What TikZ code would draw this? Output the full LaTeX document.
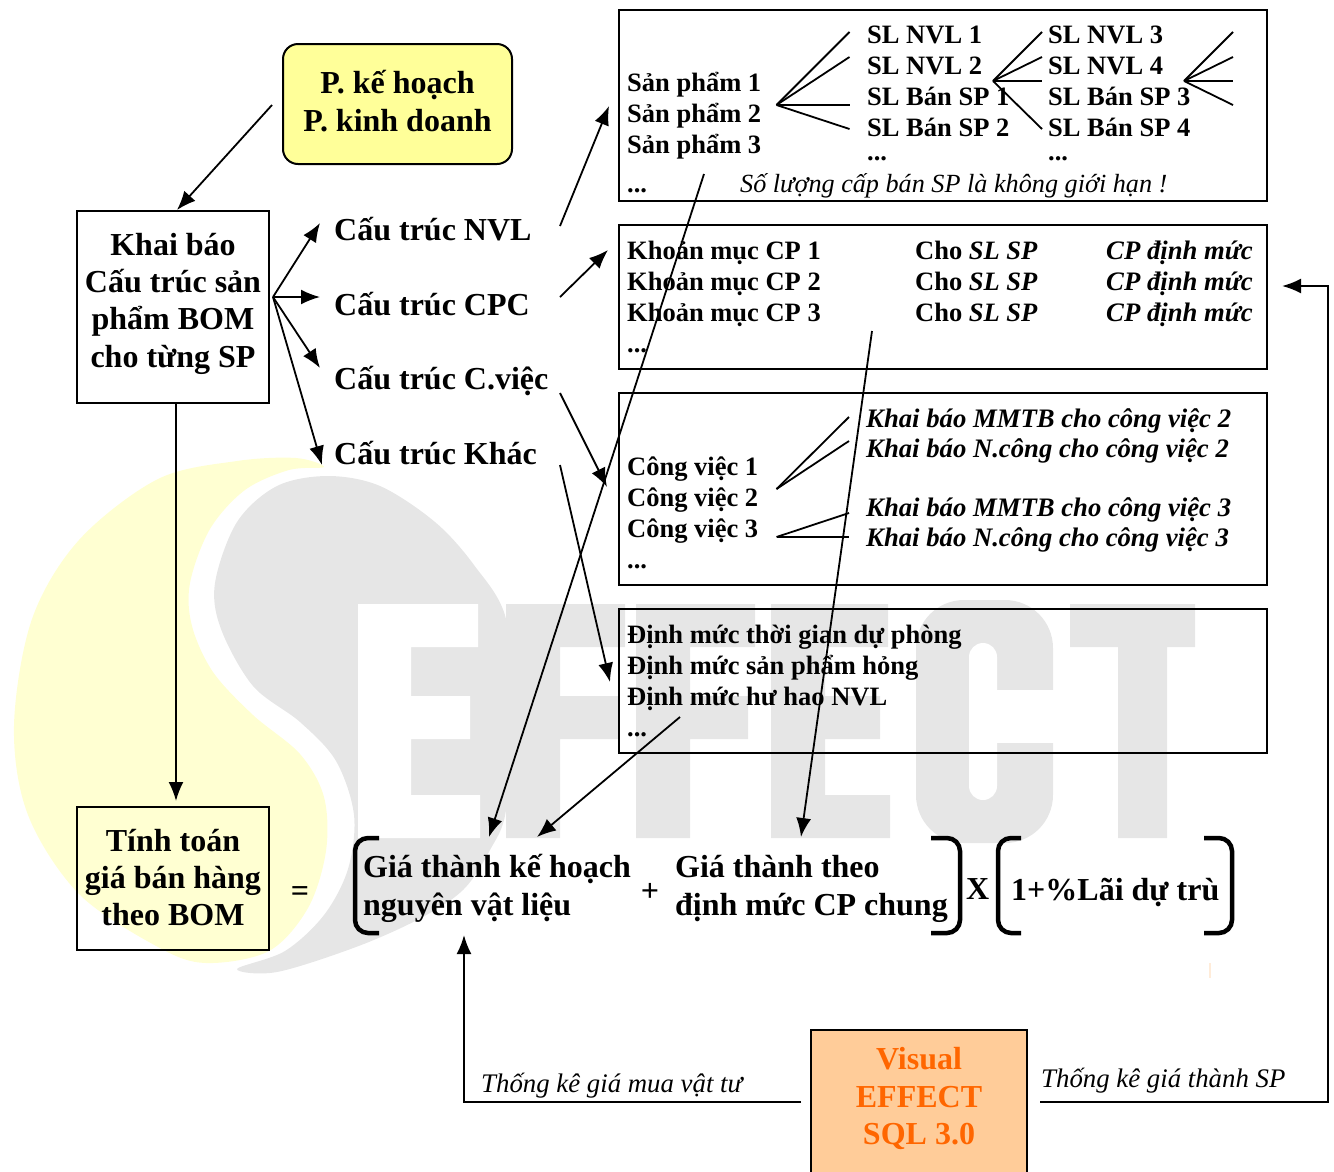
\documentclass[tikz,border=0pt]{standalone}
\usepackage{fontspec}
\setmainfont{Liberation Serif}
\usetikzlibrary{arrows.meta}
\definecolor{wmyellow}{HTML}{FFFFD2}
\definecolor{wmgray}{HTML}{E6E6E6}
\definecolor{planfill}{HTML}{FFFF99}
\definecolor{visfill}{HTML}{FFCC99}
\definecolor{vistext}{HTML}{FF6600}
\newcommand{\bigf}{\fontsize{32}{37.3}\selectfont\bfseries}
\newcommand{\smallf}{\fontsize{26.5}{31}\selectfont\bfseries}
\newcommand{\bif}{\fontsize{26.7}{31}\selectfont\bfseries\itshape}
\newcommand{\notef}{\fontsize{26.2}{31}\selectfont\itshape}
\newcommand{\notelf}{\fontsize{26.8}{31}\selectfont\itshape}
\tikzset{
  x=1pt,y=-1pt,
  boxshape/.style={draw=black,line width=2pt,rectangle,inner sep=0pt,align=center,font=\bigf},
  panel/.style={draw=black,line width=2pt,rectangle,inner sep=0pt,minimum width=648pt},
  biglabel/.style={anchor=base west,inner sep=0pt,align=left,font=\bigf},
  listlabel/.style={anchor=base west,inner sep=0pt,align=left,font=\smallf},
  bilabel/.style={anchor=base west,inner sep=0pt,align=left,font=\bif},
  notelabel/.style={anchor=base west,inner sep=0pt,font=\notef},
  arrowline/.style={line width=1.8pt,-{Latex[length=19pt,width=15pt]}},
  fanline/.style={line width=1.8pt},
  bracket/.style={line width=4.5pt,rounded corners=13pt},
  feedline/.style={line width=2pt,-{Latex[length=19pt,width=15pt]}},
}
\begin{document}
\begin{tikzpicture}
\useasboundingbox (0,0) rectangle (1334,1171);
% ---------- watermark ----------
\fill[wmyellow] plot[smooth cycle,tension=0.55] coordinates {
 (324,467) (296,458) (237,461) (158,479) (79,540) (32,619) (14,726) (28,815) (79,894) (158,947) (206,963)
 (269,951) (308,908) (326,851) (324,797) (300,754) (253,715) (213,672) (192,626) (190,583) (210,529) (245,490) (289,470)};
\fill[wmgray] plot[smooth cycle,tension=0.55] coordinates {
 (328,476) (277,486) (237,522) (215,583) (221,629) (253,686) (300,722) (336,761) (354,815) (348,869) (324,915) (285,951) (237,969)
 (277,972) (356,947) (419,919) (463,890) (490,850) (506,810) (510,715) (506,619) (474,565) (435,522) (380,486)};
% white E
\fill[white] (358,604) rectangle (478,647) (358,647) rectangle (411,795)
  (411,696) rectangle (470,739) (358,795) rectangle (480,838);
% F, F, E, C, T
\fill[wmgray] (506,604) rectangle (625,647) (506,647) rectangle (560,838) (560,696) rectangle (618,739);
\fill[wmgray] (636,604) rectangle (755,647) (636,647) rectangle (690,838) (690,696) rectangle (748,739);
\fill[wmgray] (771,604) rectangle (888,647) (771,647) rectangle (825,838) (825,696) rectangle (880,739) (825,795) rectangle (890,838);
\fill[wmgray,rounded corners=48pt] (916,600) rectangle (1053,843);
\fill[white,rounded corners=14pt] (969,643) rectangle (997,800);
\fill[white] (983,690) rectangle (1056,743);
\fill[wmgray] (1070,604) rectangle (1195,647) (1118,647) rectangle (1167,838);
\draw[line width=1.5pt,color=orange!15] (1210,963) -- (1210,978);
% ---------- boxes ----------
\node[boxshape,rounded corners=15pt,fill=planfill,minimum width=229pt,minimum height=120pt] (plan) at (397.5,104) {P. kế hoạch\\P. kinh doanh\rule[-6pt]{0pt}{6pt}};
\node[boxshape,minimum width=192pt,minimum height=192pt] (bom) at (173,307) {Khai báo\\Cấu trúc sản\\phẩm BOM\\cho từng SP\rule[-14pt]{0pt}{14pt}};
\node[boxshape,minimum width=192pt,minimum height=143pt] (calc) at (173,878.5) {Tính toán\\giá bán hàng\\theo BOM\rule[-2pt]{0pt}{2pt}};
\node[boxshape,fill=visfill,text=vistext,minimum width=216pt,minimum height=144pt] (visual) at (919,1102) {Visual\\EFFECT\\SQL 3.0\rule[-12pt]{0pt}{12pt}};
% panels
\node[panel,minimum height=191pt] (p1) at (943,105.5) {};
\node[panel,minimum height=144pt] (p2) at (943,297) {};
\node[panel,minimum height=192pt] (p3) at (943,489) {};
\node[panel,minimum height=144pt] (p4) at (943,681) {};
% structure labels
\node[biglabel] (snvl) at (334,240) {Cấu trúc NVL};
\node[biglabel] (scpc) at (334,315) {Cấu trúc CPC};
\node[biglabel] (scv) at (334,389) {Cấu trúc C.việc};
\node[biglabel] (skhac) at (334,464) {Cấu trúc Khác};
% panel 1 text
\node[listlabel] (sp) at (627,192) {Sản phẩm 1\\Sản phẩm 2\\Sản phẩm 3\\[8pt]...};
\node[listlabel] (sl1) at (867,160) {SL NVL 1\\SL NVL 2\\SL Bán SP 1\\SL Bán SP 2\\[-7pt]...};
\node[listlabel] (sl2) at (1048,160) {SL NVL 3\\SL NVL 4\\SL Bán SP 3\\SL Bán SP 4\\[-7pt]...};
\node[notelabel] (note) at (740,192) {Số lượng cấp bán SP là không giới hạn !};
% panel 2 text
\node[listlabel] (km) at (627,352) {Khoản mục CP 1\\Khoản mục CP 2\\Khoản mục CP 3\\...};
\node[listlabel] (cho) at (915,321) {Cho \textit{SL SP}\\Cho \textit{SL SP}\\Cho \textit{SL SP}};
\node[bilabel] (dm) at (1106,321) {CP định mức\\CP định mức\\CP định mức};
% panel 3 text
\node[listlabel] (cv) at (627,568) {Công việc 1\\Công việc 2\\Công việc 3\\...};
\node[bilabel] (kb2) at (866,457) {Khai báo MMTB cho công việc 2\\[-1pt]Khai báo N.công cho công việc 2};
\node[bilabel] (kb3) at (866,546) {Khai báo MMTB cho công việc 3\\[-1pt]Khai báo N.công cho công việc 3};
% panel 4 text
\node[listlabel] (dmuc) at (627,736) {Định mức thời gian dự phòng\\Định mức sản phẩm hỏng\\Định mức hư hao NVL\\...};
% formula
\node[anchor=base,inner sep=0pt,font=\bigf] (eq) at (300,901) {=};
\node[biglabel] (gvl) at (363,915) {Giá thành kế hoạch\\nguyên vật liệu};
\node[anchor=base,inner sep=0pt,font=\bigf] (plus) at (650,901) {+};
\node[biglabel] (gcp) at (675,915) {Giá thành theo\\định mức CP chung};
\node[biglabel] (times) at (966,899) {X};
\node[biglabel] (lai) at (1011,900) {1+\%Lãi dự trù};
\draw[bracket] (379,838) -- (355,838) -- (355,933) -- (379,933);
\draw[bracket] (931,838) -- (960,838) -- (960,933) -- (931,933);
\draw[bracket] (1021,838) -- (998,838) -- (998,933) -- (1021,933);
\draw[bracket] (1204,838) -- (1232,838) -- (1232,933) -- (1204,933);
% bottom notes
\node[notelabel,font=\notelf] (tkvt) at (481,1092) {Thống kê giá mua vật tư};
\node[notelabel,font=\notelf] (tksp) at (1041,1087) {Thống kê giá thành SP};
% ---------- connector ends ----------
\coordinate (planout) at (272,105);
\coordinate (bomin) at (177,210);
\coordinate (fork) at (273,297);
\coordinate (tnvl) at (320,223);
\coordinate (tcpc) at (320,297);
\coordinate (tcv) at (320,368);
\coordinate (tkhac) at (322,465);
\coordinate (bomout) at (176,403);
\coordinate (calcin) at (176,801);
\coordinate (onvl) at (560,226);
\coordinate (inp1) at (609,106);
\coordinate (ocpc) at (560,297);
\coordinate (inp2) at (608,250);
\coordinate (ocv) at (560,393);
\coordinate (inp3) at (607,487);
\coordinate (okhac) at (560,465);
\coordinate (inp4) at (610,682);
\coordinate (op1) at (704,174);
\coordinate (ingvl) at (489,837);
\coordinate (op4) at (680,717);
\coordinate (ingvl2) at (537,837);
\coordinate (op2) at (872,331);
\coordinate (ingcp) at (801,837);
\coordinate (visl) at (801,1102);
\coordinate (bl) at (464,1102);
\coordinate (inbr) at (464,935);
\coordinate (visr) at (1040,1102);
\coordinate (br) at (1328,1102);
\coordinate (tr) at (1328,286);
\coordinate (inp2r) at (1282,286);
% ---------- connectors ----------
\draw[arrowline] (planout) -- (bomin);
\draw[arrowline] (fork) -- (tnvl);
\draw[arrowline] (fork) -- (tcpc);
\draw[arrowline] (fork) -- (tcv);
\draw[arrowline] (fork) -- (tkhac);
\draw[arrowline] (bomout) -- (calcin);
\draw[arrowline] (onvl) -- (inp1);
\draw[arrowline] (ocpc) -- (inp2);
\draw[arrowline] (ocv) -- (inp3);
\draw[arrowline] (okhac) -- (inp4);
\draw[arrowline] (op1) -- (ingvl);
\draw[arrowline] (op4) -- (ingvl2);
\draw[arrowline] (op2) -- (ingcp);
\draw[feedline] (visl) -- (bl) -- (inbr);
\draw[feedline] (visr) -- (br) -- (tr) -- (inp2r);
% fans
\coordinate (f1) at (776.5,105);
\foreach \n/\yy in {a/32,b/57,c/105,d/129} { \coordinate (f1\n) at (849.5,\yy); \draw[fanline] (f1) -- (f1\n); }
\coordinate (f2) at (993,81);
\foreach \n/\yy in {a/32,b/57,c/81,d/129} { \coordinate (f2\n) at (1042,\yy); \draw[fanline] (f2) -- (f2\n); }
\coordinate (f3) at (1184,81);
\foreach \n/\yy in {a/32,b/57,c/81,d/105} { \coordinate (f3\n) at (1233,\yy); \draw[fanline] (f3) -- (f3\n); }
\coordinate (f4) at (776.5,489);
\foreach \n/\yy in {a/417,b/441} { \coordinate (f4\n) at (849,\yy); \draw[fanline] (f4) -- (f4\n); }
\coordinate (f5) at (776.5,537);
\foreach \n/\yy in {a/513,b/537} { \coordinate (f5\n) at (849,\yy); \draw[fanline] (f5) -- (f5\n); }
\end{tikzpicture}
\end{document}
